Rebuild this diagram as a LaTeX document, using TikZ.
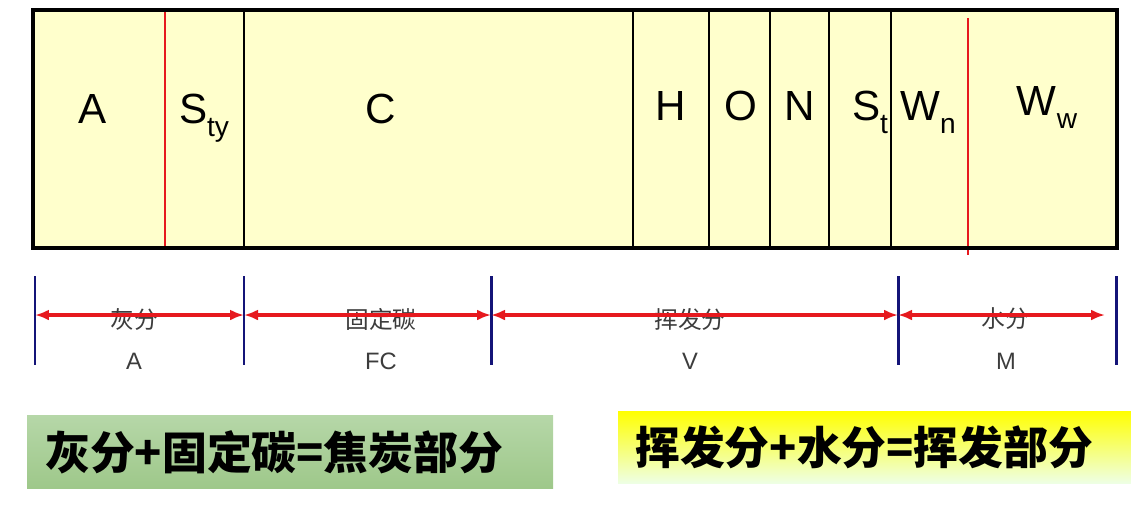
\documentclass[tikz,border=0pt]{standalone}
\usepackage{fontspec}
\setmainfont{Liberation Sans}
\newfontfamily\cjk{Noto Sans CJK SC}
\usetikzlibrary{arrows.meta}
\definecolor{cellfill}{RGB}{255,255,204}
\definecolor{mark}{RGB}{230,25,30}
\definecolor{navytick}{RGB}{20,20,120}
\definecolor{labelgray}{RGB}{60,60,60}
\definecolor{greentop}{RGB}{182,215,168}
\definecolor{greenbot}{RGB}{158,200,138}
\definecolor{yellowbot}{RGB}{238,255,228}
\newcommand{\sbs}[1]{\raisebox{-0.32em}{\fontsize{16}{16}\selectfont #1}}

\begin{document}
\begin{tikzpicture}[
    x=0.02cm, y=-0.02cm,
    elem/.style={anchor=base, inner sep=0pt, font=\fontsize{24}{28}\selectfont},
    divider/.style={line width=1.3pt},
    redline/.style={draw=mark, line width=1.3pt},
    bluetick/.style={draw=navytick, line width=1.7pt},
    dimarrow/.style={<->, >={Latex[length=0.28cm,width=0.22cm]}, draw=mark, line width=2pt},
    cnlabel/.style={inner sep=0pt, text=labelgray, font=\cjk\fontsize{13.5}{14}\selectfont},
    enlabel/.style={inner sep=0pt, text=labelgray, font=\fontsize{13.5}{14}\selectfont},
    sumtext/.style={anchor=west, inner sep=0pt, font=\cjk\bfseries\fontsize{25.5}{28}\selectfont}
]
\useasboundingbox (0,0) rectangle (1131,511);

\fill[cellfill] (33,10) rectangle (1117,248);
\foreach \x in {244,633,709,770,829,891}
    \draw[divider] (\x,10) -- (\x,250);
\draw[redline] (165,10) -- (165,248);
\draw[redline] (968,18) -- (968,255);
\draw[line width=2.8pt] (33,10) rectangle (1117,248);

\node[elem] (ash) at (93,123) {A};
\node[elem] (sty) at (204,123) {S\sbs{ty}};
\node[elem] (carbon) at (381,123) {C};
\node[elem] (hyd) at (671,120) {H};
\node[elem] (oxy) at (741,120) {O};
\node[elem] (nit) at (800,120) {N};
\node[elem] (st) at (870,120) {S\sbs{t}};
\node[elem] (wn) at (928,120) {W\sbs{n}};
\node[elem] (ww) at (1047,115) {W\sbs{w}};

\coordinate (t1) at (35,315);
\coordinate (t2) at (244,315);
\coordinate (t3) at (491,315);
\coordinate (t4) at (898,315);
\coordinate (t5) at (1116,315);
\foreach \t in {t1,t2,t3,t4,t5}
    \draw[bluetick] (\t) ++(0,-39) -- ++(0,89);

\node[cnlabel] (ashcn) at (134,319) {灰分};
\node[cnlabel] (fccn) at (381,319) {固定碳};
\node[cnlabel] (volcn) at (690,319) {挥发分};
\node[cnlabel] (watcn) at (1005,319) {水分};
\node[enlabel] (ashen) at (134,361) {A};
\node[enlabel] (fcen) at (381,361) {FC};
\node[enlabel] (volen) at (690,361) {V};
\node[enlabel] (waten) at (1006,361) {M};

\draw[dimarrow] (t1) -- (t2);
\draw[dimarrow] (t2) -- (t3);
\draw[dimarrow] (t3) -- (t4);
\draw[dimarrow, shorten >=0.22cm] (t4) -- (t5);

\shade[top color=greentop, bottom color=greenbot] (27,415) rectangle (553,488);
\shade[top color=yellow, middle color=yellow, bottom color=yellowbot] (618,411) rectangle (1131,483);
\node[sumtext] (coke) at (45,452) {灰分+固定碳=焦炭部分};
\node[sumtext] (volatile) at (635,447) {挥发分+水分=挥发部分};
\end{tikzpicture}
\end{document}
